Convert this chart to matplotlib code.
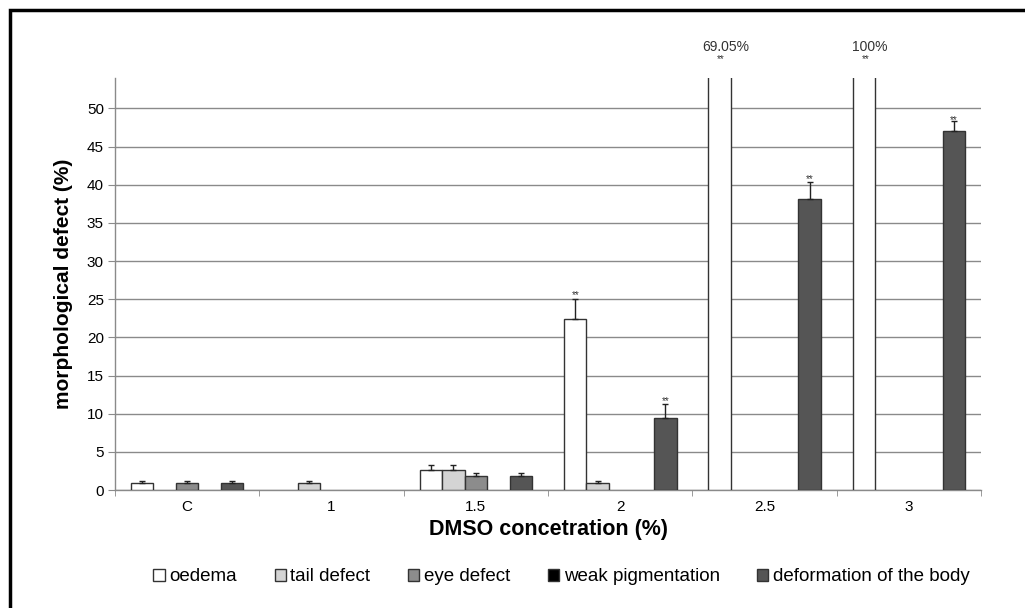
import matplotlib.pyplot as plt
import numpy as np
from matplotlib.patches import Rectangle

plt.rcParams['font.family'] = ['Liberation Sans', 'DejaVu Sans']

categories = ['C', '1', '1.5', '2', '2.5', '3']
series = ['oedema', 'tail defect', 'eye defect', 'weak pigmentation', 'deformation of the body']
colors = ['#ffffff', '#d4d4d4', '#8c8c8c', '#000000', '#555555']

oedema = [0.9, 0, 2.6, 22.4, 69.05, 100]
tail = [0, 0.9, 2.6, 0.9, 0, 0]
eye = [0.9, 0, 1.8, 0, 0, 0]
weak = [0, 0, 0, 0, 0, 0]
deform = [0.9, 0, 1.8, 9.4, 38.1, 47.0]

oedema_err = [0.3, 0, 0.7, 2.6, 0, 0]
tail_err = [0, 0.3, 0.7, 0.3, 0, 0]
eye_err = [0.3, 0, 0.4, 0, 0, 0]
weak_err = [0, 0, 0, 0, 0, 0]
deform_err = [0.3, 0, 0.4, 1.9, 2.2, 1.3]

values = [oedema, tail, eye, weak, deform]
errors = [oedema_err, tail_err, eye_err, weak_err, deform_err]

# significance marks: (group, series index, y)
stars = [(3, 0, 25.6), (3, 4, 11.6), (4, 4, 40.7), (5, 4, 48.5)]
off_scale = [(4, '69.05%'), (5, '100%')]

fig = plt.figure(figsize=(10.25, 6.08), dpi=100)
ax = fig.add_axes([0.1122, 0.194, 0.845, 0.678])

x = np.arange(len(categories))
w = 0.156
offsets = (np.arange(5) - 2) * w

for i in range(5):
    vals = np.array(values[i])
    err = np.array(errors[i])
    nz = vals > 0
    if nz.any():
        ax.bar((x + offsets[i])[nz], vals[nz], w, color=colors[i], edgecolor='#333333', linewidth=1, zorder=3)
    mask = err > 0
    if mask.any():
        ax.errorbar((x + offsets[i])[mask], vals[mask], yerr=[np.zeros(mask.sum()), err[mask]],
                    fmt='none', ecolor='#222222', elinewidth=1, capsize=2.5, capthick=1, zorder=4)

for g, s, yv in stars:
    ax.text(x[g] + offsets[s], yv, '**', ha='center', va='center', fontsize=7, color='#333333', zorder=5)

for g, lab in off_scale:
    ax.text(x[g] + offsets[0] + 0.04, 58.1, lab, ha='center', va='center', fontsize=10, color='#333333', clip_on=False)
    ax.text(x[g] + offsets[0] + 0.01, 56.4, '**', ha='center', va='center', fontsize=7, color='#333333', clip_on=False)

ax.set_xlim(-0.5, len(categories) - 0.5)
ax.set_ylim(0, 54)
ax.set_yticks(np.arange(0, 51, 5))
ax.yaxis.grid(True, color='#8a8a8a', linewidth=1)
ax.set_axisbelow(True)

ax.set_xticks(x)
ax.set_xticklabels(categories, fontsize=11)
ax.set_xticks(np.arange(-0.5, len(categories), 1), minor=True)
ax.tick_params(axis='x', which='major', length=0, pad=7)
ax.tick_params(axis='x', which='minor', length=4, color='#8a8a8a', direction='out')
ax.tick_params(axis='y', length=5, color='#8a8a8a', labelsize=11, pad=3)

for side in ['top', 'right']:
    ax.spines[side].set_visible(False)
for side in ['left', 'bottom']:
    ax.spines[side].set_color('#8a8a8a')
    ax.spines[side].set_linewidth(1)

ax.set_xlabel('DMSO concetration (%)', fontsize=15.5, fontweight='bold', labelpad=4)
ax.set_ylabel('morphological defect (%)', fontsize=15, fontweight='bold', labelpad=10)

handles = [Rectangle((0, 0), 1, 1, facecolor=c, edgecolor='#333333', linewidth=1) for c in colors]
fig.legend(handles, series, loc='center', bbox_to_anchor=(0.548, 0.051), ncol=5, frameon=False,
           fontsize=13.5, handlelength=0.6, handleheight=0.6, handletextpad=0.25, columnspacing=2.0)

# outer frame of the figure panel
fig.patches.append(Rectangle((10 / 1025, -0.1), 1.2, 0.1 + (608 - 10) / 608, transform=fig.transFigure,
                             fill=False, edgecolor='black', linewidth=2.5))

fig.savefig('out.png', dpi=100)
